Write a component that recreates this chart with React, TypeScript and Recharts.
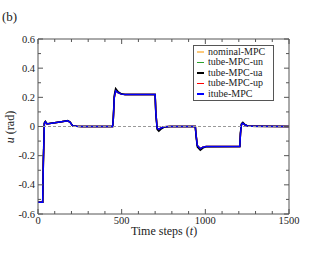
import React from 'react';
import { LineChart, Line, XAxis, YAxis, ReferenceLine } from 'recharts';

const steps = [
  0, 25, 28, 32, 38, 44, 54, 100, 140, 178, 192, 206, 230, 260, 446, 450, 456, 464, 478, 498, 520, 700, 704,
  712, 722, 735, 755, 790, 940, 944, 952, 970, 985, 1005, 1206, 1210, 1216, 1224, 1238, 1260, 1500,
];

const itubeMpc = [
  -0.52, -0.52, -0.52, -0.25, 0.02, 0.032, 0.018, 0.025, 0.032, 0.039, 0.028, 0.006, 0.001, 0, 0, 0.05, 0.2, 0.245,
  0.232, 0.222, 0.22, 0.22, 0.1, -0.01, -0.02, -0.01, -0.002, 0, 0, -0.05, -0.13, -0.152, -0.142, -0.137, -0.137,
  -0.05, 0.015, 0.022, 0.01, 0.001, 0,
];

const tubeMpcUa = [
  -0.52, -0.52, -0.52, -0.22, 0.025, 0.035, 0.019, 0.026, 0.033, 0.041, 0.03, 0.007, 0.001, 0, 0, 0.06, 0.215, 0.26,
  0.24, 0.224, 0.22, 0.22, 0.09, -0.02, -0.032, -0.018, -0.004, 0, 0, -0.06, -0.14, -0.163, -0.148, -0.138, -0.137,
  -0.04, 0.02, 0.029, 0.012, 0.001, 0,
];

const nominalMpc = itubeMpc;
const tubeMpcUn = itubeMpc;
const tubeMpcUp = itubeMpc;

const xTicks = [0, 100, 200, 300, 400, 500, 600, 700, 800, 900, 1000, 1100, 1200, 1300, 1400, 1500];
const yTicks = [-0.6, -0.5, -0.4, -0.3, -0.2, -0.1, 0, 0.1, 0.2, 0.3, 0.4, 0.5, 0.6];
const yLabels: Record<string, string> = { '-0.6': '-0.6', '-0.4': '-0.4', '-0.2': '-0.2', '0': '0', '0.2': '0.2', '0.4': '0.4', '0.6': '0.6' };

const series = [
  { key: 'nominal', name: 'nominal-MPC', color: '#fcc97a' },
  { key: 'un', name: 'tube-MPC-un', color: '#2ca02c' },
  { key: 'up', name: 'tube-MPC-up', color: '#ff0000' },
  { key: 'ua', name: 'tube-MPC-ua', color: '#000000' },
  { key: 'itube', name: 'itube-MPC', color: '#0000ff' },
];
const legendOrder = ['nominal', 'un', 'ua', 'up', 'itube'];

const data = steps.map((t, i) => ({
  t,
  nominal: nominalMpc[i],
  un: tubeMpcUn[i],
  ua: tubeMpcUa[i],
  up: tubeMpcUp[i],
  itube: itubeMpc[i],
}));

const FONT = '"Liberation Serif", "DejaVu Serif", serif';
const AXIS = '#555';
const TEXT = '#222';

const BottomTick = (props: any) => {
  const { x, y, payload } = props;
  const major = payload.value % 500 === 0;
  return (
    <g>
      <line x1={x} x2={x} y1={y} y2={y - (major ? 5 : 3)} stroke={AXIS} />
      {major && (
        <text x={x} y={y + 10} textAnchor="middle" fontSize={10.5} fontFamily={FONT} fill={TEXT}>
          {payload.value}
        </text>
      )}
    </g>
  );
};

const TopTick = (props: any) => {
  const { x, y, payload } = props;
  const major = payload.value % 500 === 0;
  return <line x1={x} x2={x} y1={y} y2={y + (major ? 5 : 3)} stroke={AXIS} />;
};

const LeftTick = (props: any) => {
  const { x, y, payload } = props;
  const label = yLabels[String(payload.value)];
  return (
    <g>
      <line x1={x} x2={x + (label ? 5 : 3)} y1={y} y2={y} stroke={AXIS} />
      {label && (
        <text x={x - 3} y={y + 3.5} textAnchor="end" fontSize={10.5} fontFamily={FONT} fill={TEXT}>
          {label}
        </text>
      )}
    </g>
  );
};

const RightTick = (props: any) => {
  const { x, y, payload } = props;
  const major = !!yLabels[String(payload.value)];
  return <line x1={x} x2={x - (major ? 5 : 3)} y1={y} y2={y} stroke={AXIS} />;
};

const LegendBox = () => (
  <div
    style={{
      position: 'absolute',
      left: 193,
      top: 45,
      width: 75,
      border: `1px solid ${AXIS}`,
      background: '#fff',
      padding: '1px 2px 1px 2px',
      fontFamily: FONT,
      fontSize: 10,
      lineHeight: '10.4px',
      color: TEXT,
    }}
  >
    {legendOrder.map((k) => {
      const s = series.find((d) => d.key === k)!;
      return (
        <div key={k} style={{ display: 'flex', alignItems: 'center', whiteSpace: 'nowrap' }}>
          <span style={{ display: 'inline-block', width: 7, height: 1.5, background: s.color, margin: '0 4px 0 1px' }} />
          <span>{s.name}</span>
        </div>
      );
    })}
  </div>
);

export default function App() {
  return (
    <div style={{ position: 'absolute', left: 0, top: 0, width: 329, height: 254, background: '#fff' }}>
      <LineChart width={329} height={254} data={data} margin={{ top: 38, right: 39, bottom: 39, left: 8 }}>
        <XAxis
          dataKey="t"
          type="number"
          domain={[0, 1500]}
          ticks={xTicks}
          tick={<BottomTick />}
          tickLine={false}
          tickSize={0}
          tickMargin={0}
          height={1}
          stroke={AXIS}
          interval={0}
        />
        <XAxis
          xAxisId="top"
          dataKey="t"
          type="number"
          orientation="top"
          domain={[0, 1500]}
          ticks={xTicks}
          tick={<TopTick />}
          tickLine={false}
          tickSize={0}
          tickMargin={0}
          height={1}
          stroke={AXIS}
          interval={0}
        />
        <YAxis
          type="number"
          domain={[-0.6, 0.6]}
          ticks={yTicks}
          tick={<LeftTick />}
          tickLine={false}
          tickSize={0}
          tickMargin={0}
          width={30}
          stroke={AXIS}
          interval={0}
          allowDataOverflow
        />
        <YAxis
          yAxisId="right"
          type="number"
          orientation="right"
          domain={[-0.6, 0.6]}
          ticks={yTicks}
          tick={<RightTick />}
          tickLine={false}
          tickSize={0}
          tickMargin={0}
          width={1}
          stroke={AXIS}
          interval={0}
          allowDataOverflow
        />
        {series.map((s) => (
          <Line
            key={s.key}
            dataKey={s.key}
            name={s.name}
            type="linear"
            stroke={s.color}
            strokeWidth={1.5}
            dot={false}
            activeDot={false}
            isAnimationActive={false}
          />
        ))}
        <Line
          xAxisId="top"
          yAxisId="right"
          dataKey="itube"
          stroke="none"
          dot={false}
          legendType="none"
          isAnimationActive={false}
        />
        <ReferenceLine y={0} stroke="#999" strokeDasharray="3 2" strokeWidth={1.2} />
      </LineChart>
      <LegendBox />
      <div style={{ position: 'absolute', left: 2, top: 9, fontFamily: FONT, fontSize: 13, color: TEXT }}>(b)</div>
      <div
        style={{
          position: 'absolute',
          left: 10,
          top: 127,
          transform: 'translate(-50%, -50%) rotate(-90deg)',
          fontFamily: FONT,
          fontSize: 12,
          color: TEXT,
          whiteSpace: 'nowrap',
        }}
      >
        <i>u</i> (rad)
      </div>
      <div
        style={{
          position: 'absolute',
          left: 164,
          top: 225,
          transform: 'translateX(-50%)',
          fontFamily: FONT,
          fontSize: 12,
          lineHeight: '12px',
          color: TEXT,
          whiteSpace: 'nowrap',
        }}
      >
        Time steps (<i>t</i>)
      </div>
    </div>
  );
}
